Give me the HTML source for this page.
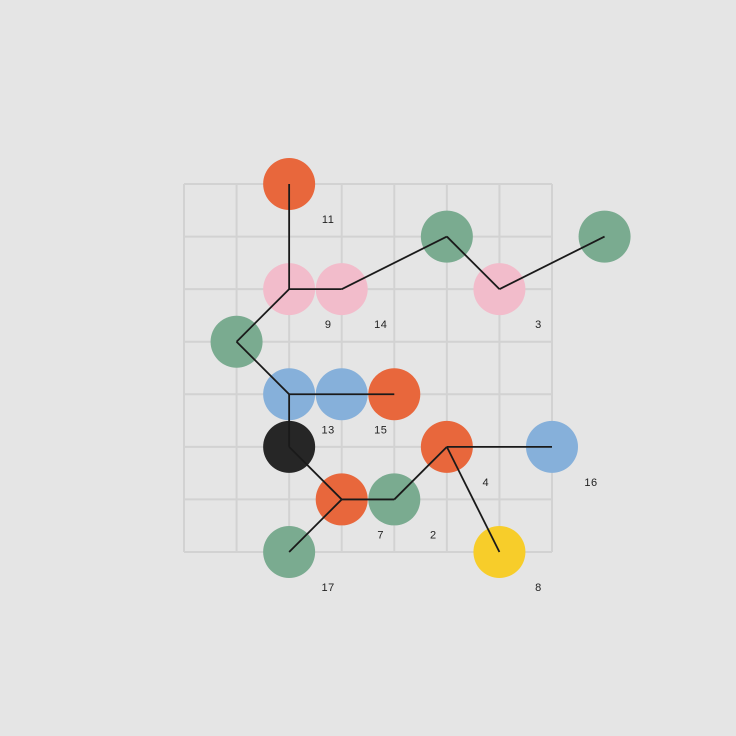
<!DOCTYPE html>
<html><head><meta charset="utf-8"><style>
html,body{margin:0;padding:0;background:#e5e5e5;}
svg{display:block;}
text{font-family:"Liberation Sans",sans-serif;font-size:11px;fill:#222;letter-spacing:0.5px;}
</style></head><body>
<svg id="chart" width="736" height="736" viewBox="0 0 736 736">
<rect width="736" height="736" fill="#e5e5e5"/>
<g id="grid"></g>
<g id="edges"></g>
<g id="nodes"></g>
<g id="labels"></g>
</svg>
<script>
const nodeIds = ['a','b','c','d','e','f','g','h','i','j','k','l','m','n','o','p','q','r'];
const nodeCols = [2,5,8,2,3,6,1,2,3,4,2,5,7,3,4,2,6];
const nodeRows = [0,1,1,2,2,2,3,4,4,4,5,5,5,6,6,7,7];
const nodeColors = ['orange','green','green','pink','pink','pink','green','blue','blue','orange','black','orange','blue','orange','green','green','yellow'];
const nodeLabels = ['11','','','9','14','3','','13','15','','','4','16','7','2','17','8'];
const edgeFrom = [0,3,4,1,5,3,6,7,7,10,13,13,14,11,11];
const edgeTo   = [3,4,1,5,2,6,7,9,10,13,15,14,11,12,16];
const palette = {orange:'#e8673c',green:'#7aab90',pink:'#f2bccb',blue:'#86b0da',black:'#262626',yellow:'#f7cd2a'};
const NS='http://www.w3.org/2000/svg';
const x0=184, cell=368/7;
const sx=c=>x0+c*cell, sy=r=>x0+r*cell;
const grid=document.getElementById('grid');
for(let i=0;i<=7;i++){
  const v=document.createElementNS(NS,'line');
  v.setAttribute('x1',sx(i));v.setAttribute('x2',sx(i));v.setAttribute('y1',184);v.setAttribute('y2',552);
  v.setAttribute('stroke','#d2d2d2');v.setAttribute('stroke-width','2');
  
  
  grid.appendChild(v);
  const h=document.createElementNS(NS,'line');
  h.setAttribute('y1',sy(i));h.setAttribute('y2',sy(i));h.setAttribute('x1',184);h.setAttribute('x2',552);
  h.setAttribute('stroke','#d2d2d2');h.setAttribute('stroke-width','2');
  
  
  grid.appendChild(h);
}
const nodesG=document.getElementById('nodes');
nodeCols.forEach((c,i)=>{
  const ci=document.createElementNS(NS,'circle');
  ci.setAttribute('cx',sx(c));ci.setAttribute('cy',sy(nodeRows[i]));ci.setAttribute('r',26);
  ci.setAttribute('fill',palette[nodeColors[i]]);
  
  
  nodesG.appendChild(ci);
});
const edgesG=document.getElementById('edges');
edgeFrom.forEach((f,i)=>{
  const t=edgeTo[i];
  const l=document.createElementNS(NS,'line');
  l.setAttribute('x1',sx(nodeCols[f]));l.setAttribute('y1',sy(nodeRows[f]));
  l.setAttribute('x2',sx(nodeCols[t]));l.setAttribute('y2',sy(nodeRows[t]));
  l.setAttribute('stroke','#1a1a1a');l.setAttribute('stroke-width','1.8');
  
  
  edgesG.appendChild(l);
});
// draw edges on top of nodes
document.getElementById('chart').appendChild(edgesG);
const labelsG=document.getElementById('labels');
nodeLabels.forEach((s,i)=>{
  if(!s)return;
  const t=document.createElementNS(NS,'text');
  t.setAttribute('x',sx(nodeCols[i])+39);t.setAttribute('y',sy(nodeRows[i])+39);
  t.setAttribute('text-anchor','middle');
  t.textContent=s;
  
  
  labelsG.appendChild(t);
});
document.getElementById('chart').appendChild(labelsG);
</script>
</body></html>
